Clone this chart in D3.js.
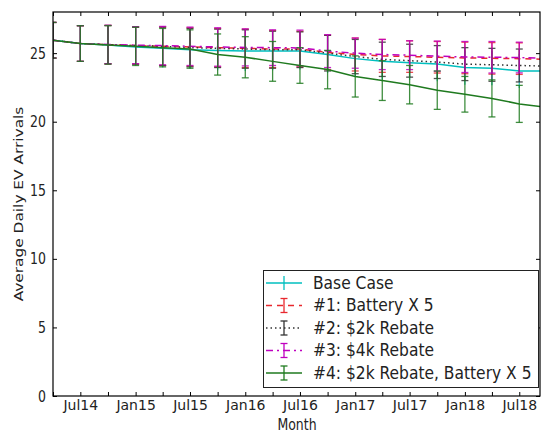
<!DOCTYPE html>
<html>
<head>
<meta charset="utf-8">
<script src="https://cdn.jsdelivr.net/npm/d3@7/dist/d3.min.js"></script>
<style>
  html, body { margin: 0; padding: 0; background: #fff; }
  svg { display: block; }
  text { font-family: "DejaVu Sans", sans-serif; fill: #222; }
</style>
</head>
<body>
<svg id="chart" width="541" height="434"></svg>
<script>
// Quarterly observation dates
const months = ["2014-04","2014-07","2014-10","2015-01","2015-04","2015-07","2015-10",
  "2016-01","2016-04","2016-07","2016-10","2017-01","2017-04","2017-07","2017-10",
  "2018-01","2018-04","2018-07","2018-10"];

// Scenario means (average daily EV arrivals)
const baseCase   = [25.94,25.70,25.60,25.45,25.35,25.25,25.20,25.15,25.15,25.15,24.90,24.60,24.40,24.30,24.20,23.95,23.90,23.70,23.70];
const battery5   = [25.94,25.70,25.62,25.55,25.50,25.45,25.40,25.35,25.30,25.30,25.05,24.90,24.80,24.75,24.70,24.65,24.62,24.60,24.55];
const rebate2k   = [25.94,25.70,25.62,25.55,25.50,25.40,25.35,25.30,25.25,25.25,25.00,24.75,24.55,24.45,24.35,24.20,24.15,24.10,24.05];
const rebate4k   = [25.94,25.70,25.63,25.58,25.55,25.50,25.45,25.42,25.40,25.38,25.15,25.00,24.90,24.85,24.78,24.72,24.70,24.68,24.62];
const rebBattery = [25.94,25.70,25.60,25.50,25.40,25.30,24.90,24.70,24.40,24.10,23.80,23.30,23.00,22.70,22.30,22.00,21.70,21.30,21.05];

// Error bar half-widths
const errBase    = [1.30,1.30,1.40,1.35,1.40,1.40,1.45,1.45,1.40,1.35,1.35,1.30,1.30,1.25,1.25,1.25,1.25,1.25,1.25];
const errBattery = [1.30,1.30,1.40,1.35,1.40,1.40,1.40,1.40,1.35,1.30,1.25,1.20,1.20,1.15,1.15,1.15,1.15,1.15,1.15];
const errReb2k   = [1.30,1.30,1.40,1.35,1.40,1.40,1.40,1.40,1.35,1.30,1.30,1.25,1.25,1.20,1.20,1.20,1.20,1.20,1.20];
const errReb4k   = [1.30,1.30,1.40,1.35,1.40,1.40,1.40,1.35,1.30,1.30,1.20,1.10,1.10,1.05,1.10,1.13,1.15,1.12,1.12];
const errCombo   = [1.30,1.30,1.40,1.40,1.40,1.40,1.50,1.50,1.45,1.30,1.40,1.50,1.45,1.40,1.40,1.30,1.35,1.35,1.35];

const seriesNames = ["Base Case","#1: Battery X 5","#2: $2k Rebate","#3: $4k Rebate","#4: $2k Rebate, Battery X 5"];
const yTicks = [0,5,10,15,20,25];

const parse = d3.timeParse("%Y-%m");
const dates = months.map(parse);

const series = [
  {name: seriesNames[0], values: baseCase,   err: errBase,    color: "#00bfbf", dash: null,      cap: 0},
  {name: seriesNames[1], values: battery5,   err: errBattery, color: "#e8282e", dash: "6,5",     cap: 3.5},
  {name: seriesNames[2], values: rebate2k,   err: errReb2k,   color: "#333333", dash: "1.5,3",   cap: 3.5},
  {name: seriesNames[3], values: rebate4k,   err: errReb4k,   color: "#bf00bf", dash: "7,4,2,4", cap: 3.5},
  {name: seriesNames[4], values: rebBattery, err: errCombo,   color: "#1f7a1f", dash: null,      cap: 3.5}
];

const L = 53, R = 540, T = 12, B = 396;
const svg = d3.select("#chart");

const x = d3.scaleTime()
  .domain([new Date(2014, 3, 1), new Date(2018, 8, 8)])
  .range([L, R]);
const y = d3.scaleLinear().domain([0, 28]).range([B, T]);

svg.append("defs").append("clipPath").attr("id", "plotClip")
  .append("rect").attr("x", L).attr("y", T).attr("width", R - L).attr("height", B - T);

const plot = svg.append("g").attr("clip-path", "url(#plotClip)");

const line = d3.line().x((d, i) => x(dates[i])).y(d => y(d));

series.forEach(s => {
  const g = plot.append("g");
  g.append("path")
    .attr("d", line(s.values))
    .attr("fill", "none")
    .attr("stroke", s.color)
    .attr("stroke-width", 1.5)
    .attr("stroke-dasharray", s.dash);
  const bars = g.selectAll(".eb").data(s.values).enter().append("g");
  bars.append("line")
    .attr("x1", (d, i) => x(dates[i])).attr("x2", (d, i) => x(dates[i]))
    .attr("y1", (d, i) => y(d - s.err[i])).attr("y2", (d, i) => y(d + s.err[i]))
    .attr("stroke", s.color).attr("stroke-width", 1.3).attr("stroke-opacity", 0.85);
  if (s.cap > 0) {
    [-1, 1].forEach(sign => {
      bars.append("line")
        .attr("x1", (d, i) => x(dates[i]) - s.cap).attr("x2", (d, i) => x(dates[i]) + s.cap)
        .attr("y1", (d, i) => y(d + sign * s.err[i])).attr("y2", (d, i) => y(d + sign * s.err[i]))
        .attr("stroke", s.color).attr("stroke-width", 1.3).attr("stroke-opacity", 0.85);
    });
  }
});

// Axes with inward ticks on all four sides
const quarterTicks = x.ticks(d3.timeMonth.every(3));
const fmt = d3.timeFormat("%b%y");
const labelFor = d => (d.getMonth() === 0 || d.getMonth() === 6) ? fmt(d) : "";

const xAxisB = d3.axisBottom(x).tickValues(quarterTicks).tickSizeInner(-4).tickSizeOuter(0)
  .tickPadding(4).tickFormat(labelFor);
const xAxisT = d3.axisTop(x).tickValues(quarterTicks).tickSizeInner(-4).tickSizeOuter(0)
  .tickFormat("");
const yAxisL = d3.axisLeft(y).tickValues(yTicks).tickSizeInner(-4).tickSizeOuter(0)
  .tickPadding(7).tickFormat(d3.format("d"));
const yAxisR = d3.axisRight(y).tickValues(yTicks).tickSizeInner(-4).tickSizeOuter(0)
  .tickFormat("");

// Tall glyphs: stretch text vertically about a fixed line
const stretchY = (y0, k) => `translate(0,${y0}) scale(1,${k}) translate(0,${-y0})`;

function styleAxis(g, fs) {
  g.select(".domain").remove();
  g.selectAll(".tick line").attr("stroke", "#000").attr("stroke-width", 1);
  g.selectAll(".tick text").attr("font-size", fs).attr("font-family", "DejaVu Sans").attr("fill", "#222");
}
svg.append("g").attr("transform", `translate(0,${B})`).call(xAxisB).call(g => styleAxis(g, "14px"));
svg.append("g").attr("transform", `translate(0,${T})`).call(xAxisT).call(g => styleAxis(g, "13px"));
svg.append("g").attr("transform", `translate(${L},0)`).call(yAxisL).call(g => {
  styleAxis(g, "12.5px");
  g.selectAll(".tick text").attr("transform", stretchY(0, 1.25));
});
svg.append("g").attr("transform", `translate(${R},0)`).call(yAxisR).call(g => styleAxis(g, "13px"));

// Frame
svg.append("rect").attr("x", L).attr("y", T).attr("width", R - L).attr("height", B - T)
  .attr("fill", "none").attr("stroke", "#000").attr("stroke-width", 1.2);

// Axis titles
svg.append("text").attr("x", (L + R) / 2 + 0.5).attr("y", 430.5).attr("text-anchor", "middle")
  .attr("font-size", "12.5px").attr("transform", stretchY(430.5, 1.2)).text("Month");
svg.append("text").attr("transform", `translate(22.5,${(T + B) / 2}) rotate(-90) scale(1.23,1)`)
  .attr("text-anchor", "middle").attr("font-size", "12.5px").text("Average Daily EV Arrivals");

// Legend
const lg = svg.append("g");
lg.append("rect").attr("x", 263.5).attr("y", 270.5).attr("width", 275).attr("height", 117)
  .attr("fill", "#fff").attr("stroke", "#222").attr("stroke-width", 1);
series.forEach((s, i) => {
  const cy = 283 + i * 22.5;
  lg.append("line").attr("x1", 266).attr("x2", 302).attr("y1", cy).attr("y2", cy)
    .attr("stroke", s.color).attr("stroke-width", 1.5).attr("stroke-dasharray", s.dash);
  lg.append("line").attr("x1", 284).attr("x2", 284).attr("y1", cy - 7).attr("y2", cy + 7)
    .attr("stroke", s.color).attr("stroke-width", 1.3);
  if (s.cap > 0) {
    [-7, 7].forEach(o => lg.append("line").attr("x1", 284 - s.cap).attr("x2", 284 + s.cap)
      .attr("y1", cy + o).attr("y2", cy + o).attr("stroke", s.color).attr("stroke-width", 1.3));
  }
  const yb = cy + 5.8;
  lg.append("text").attr("x", 313).attr("y", yb).attr("font-size", "15.5px")
    .attr("transform", stretchY(yb, 1.12)).text(s.name);
});
</script>
</body>
</html>
